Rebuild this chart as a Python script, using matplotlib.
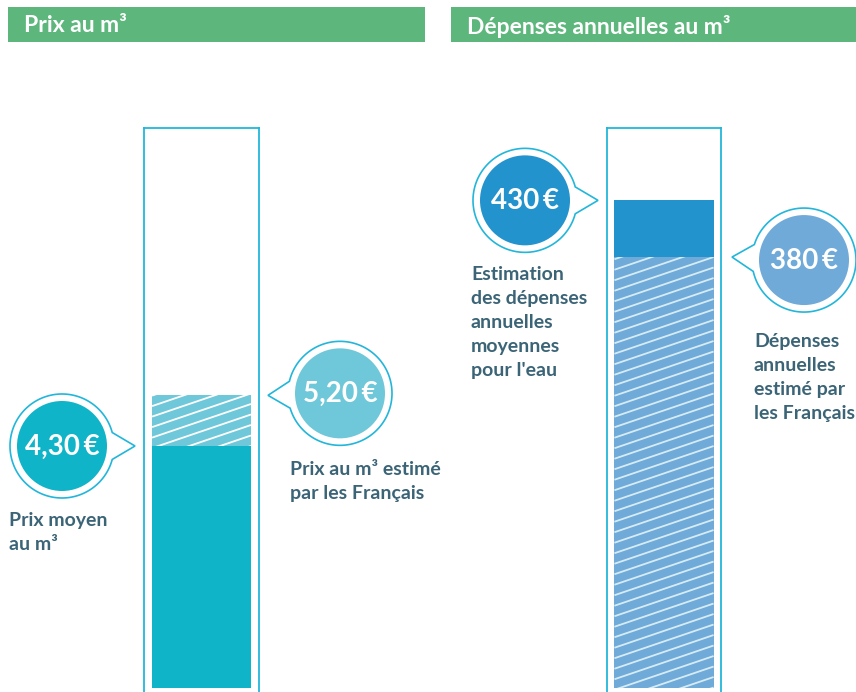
import matplotlib
matplotlib.use("Agg")
import matplotlib.pyplot as plt
import numpy as np
from matplotlib.patches import Polygon, Circle, Rectangle
from matplotlib.transforms import IdentityTransform

# data
panel_titles = ["Prix au m³", "Dépenses annuelles au m³"]
price_actual = 4.30
price_estimated = 5.20
spend_actual = 430
spend_estimated = 380
price_labels = ["4,30\u2009€", "5,20\u2009€"]
spend_labels = ["430\u2009€", "380\u2009€"]
price_captions = ["Prix moyen\nau m³", "Prix au m³ estimé\npar les Français"]
spend_captions = ["Estimation\ndes dépenses\nannuelles\nmoyennes\npour l'eau",
                  "Dépenses\nannuelles\nestimé par\nles Français"]

W, H = 856, 692
GREEN = "#5db77c"
RING = "#22b6da"
TEAL = "#10b4c8"
TEAL_LIGHT = "#6fc8d9"
BLUE = "#2393cd"
BLUE_LIGHT = "#70aad9"
TXT = "#3b6477"
R_RING, R_FILL = 52, 45

FONT = ["Lato", "DejaVu Sans"]

fig = plt.figure(figsize=(W / 100, H / 100), dpi=100)
ov = fig.add_axes([0, 0, 1, 1], zorder=0)
ov.set_xlim(0, W)
ov.set_ylim(H, 0)
ov.axis("off")


def bar_axes(left, width, top_px, ymin, ymax):
    ax = fig.add_axes([left / W, 0, width / W, (H - top_px) / H], zorder=1)
    ax.set_facecolor("none")
    ax.set_xlim(0, 1)
    ax.set_ylim(ymin, ymax)
    ax.set_xticks([])
    ax.set_yticks([])
    for s in ["left", "right", "top"]:
        ax.spines[s].set_color(RING)
        ax.spines[s].set_linewidth(1.3)
    ax.spines["bottom"].set_visible(False)
    return ax


def hatch_bar(ax, bar, color):
    x0, y0 = ax.transData.transform((bar.get_x(), bar.get_y()))
    x1, y1 = ax.transData.transform((bar.get_x() + bar.get_width(), bar.get_y() + bar.get_height()))
    slope = 0.34
    for c in np.arange(y0 - slope * (x1 - x0) - 10, y1 + 10, 10.5):
        ln, = ax.plot([x0, x1], [c, c + slope * (x1 - x0)], color=color, lw=1.3,
                      transform=IdentityTransform(), solid_capstyle="butt", zorder=3)
        ln.set_clip_path(bar)


def value_px(ax, v):
    return H - ax.transData.transform((0.5, v))[1]


def bubble(cx, cy, tip_x, tip_y, fill, text):
    ang = np.arctan2(tip_y - cy, tip_x - cx)
    half = np.radians(15)
    t = np.linspace(ang + half, ang + 2 * np.pi - half, 150)
    pts = np.column_stack([cx + R_RING * np.cos(t), cy + R_RING * np.sin(t)])
    pts = np.vstack([[tip_x, tip_y], pts])
    ov.add_patch(Polygon(pts, closed=True, fc="white", ec=RING, lw=1.2, zorder=2))
    ov.add_patch(Circle((cx, cy), R_FILL, fc=fill, ec="none", zorder=3))
    ov.text(cx, cy + 1, text, color="white", fontsize=20, fontweight="bold", family=FONT,
            ha="center", va="center", zorder=4)


def caption(x, y, text):
    ov.text(x, y, text, color=TXT, fontsize=14, fontweight="bold", family=FONT,
            ha="left", va="top", linespacing=1.5)


# headers
for (x0, x1), title in zip([(8, 425), (451, 858)], panel_titles):
    ov.add_patch(Rectangle((x0, 7), x1 - x0, 35, fc=GREEN, ec="none"))
    ov.text(x0 + 16, 26, title, color="white", fontsize=16.5, fontweight="bold",
            family=FONT, ha="left", va="center")

# left panel: price per m3
axl = bar_axes(144, 115, 128, -0.071, 9.95)
b_est = axl.bar(0.5, price_estimated, width=0.86, color=TEAL_LIGHT, zorder=2)[0]
axl.bar(0.5, price_actual, width=0.86, color=TEAL, zorder=4)
hatch_bar(axl, b_est, "white")

y_act = value_px(axl, price_actual)
y_est = value_px(axl, price_estimated)
bubble(62, y_act, 135, y_act, TEAL, price_labels[0])
bubble(340, y_est - 2, 268, y_est, TEAL_LIGHT, price_labels[1])
caption(9, 512, price_captions[0])
caption(290, 461, price_captions[1])

# right panel: annual spending
axr = bar_axes(607, 114, 128, -3.5, 493.8)
b_act = axr.bar(0.5, spend_actual, width=0.87, color=BLUE, zorder=2)[0]
b_est2 = axr.bar(0.5, spend_estimated, width=0.87, color=BLUE_LIGHT, zorder=2.5)[0]
hatch_bar(axr, b_est2, "#d6ecf4")

y_act = value_px(axr, spend_actual)
y_est = value_px(axr, spend_estimated)
bubble(525, y_act, 598, y_act, BLUE, spend_labels[0])
bubble(804, y_est + 3, 732, y_est, BLUE_LIGHT, spend_labels[1])
caption(471, 266, spend_captions[0])
caption(754, 333, spend_captions[1])

fig.savefig("out.png", dpi=100)
